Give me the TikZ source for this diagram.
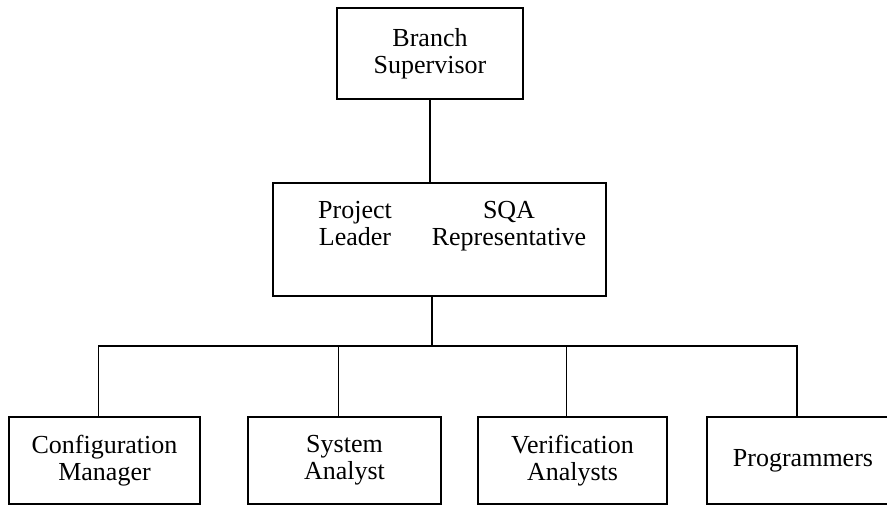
\documentclass[tikz,border=0pt]{standalone}
\usepackage{fontspec}
\setmainfont{Liberation Serif}
\begin{document}
\begin{tikzpicture}[x=0.75pt,y=-0.75pt,
  box/.style={draw,line width=1pt,inner sep=0pt,align=center,font=\fontsize{19.5}{20}\selectfont},
  lbl/.style={inner sep=0pt,align=center,font=\fontsize{19.5}{20}\selectfont},
  conn/.style={line width=1pt}]
\useasboundingbox (0,0) rectangle (887,506);
\node[box,minimum width=139.5pt,minimum height=68.25pt] (branch) at (430,53.5) {Branch\\Supervisor};
\node[box,minimum width=249.75pt,minimum height=84.75pt] (mid) at (439.5,239.5) {};
\node[lbl,anchor=north] (pl) at (355,201) {Project\\Leader};
\node[lbl,anchor=north] (sqa) at (509,201) {SQA\\Representative};
\node[box,minimum width=143.25pt,minimum height=65.25pt] (c1) at (104.5,460.5) {Configuration\\Manager};
\node[box,minimum width=144.75pt,minimum height=65.25pt] (c2) at (344.5,460.5) {System\\Analyst};
\node[box,minimum width=141.75pt,minimum height=65.25pt] (c3) at (572.5,460.5) {Verification\\Analysts};
\node[box,minimum width=144pt,minimum height=65.25pt] (c4) at (803,460.5) {Programmers};
\draw[conn] (branch.south) -- (branch.south |- mid.north);
\coordinate (hub) at (432,346);
\draw[conn] (hub |- mid.south) -- (hub);
\coordinate (t1) at ([xshift=-4.5pt]c1.north);
\coordinate (t2) at ([xshift=-4.5pt]c2.north);
\coordinate (t3) at ([xshift=-4.5pt]c3.north);
\coordinate (t4) at ([xshift=-4.5pt]c4.north);
\draw[conn] (t1) -- (t1 |- hub) -- (t4 |- hub) -- (t4);
\draw[conn] (t2) -- (t2 |- hub);
\draw[conn] (t3) -- (t3 |- hub);
\end{tikzpicture}
\end{document}
